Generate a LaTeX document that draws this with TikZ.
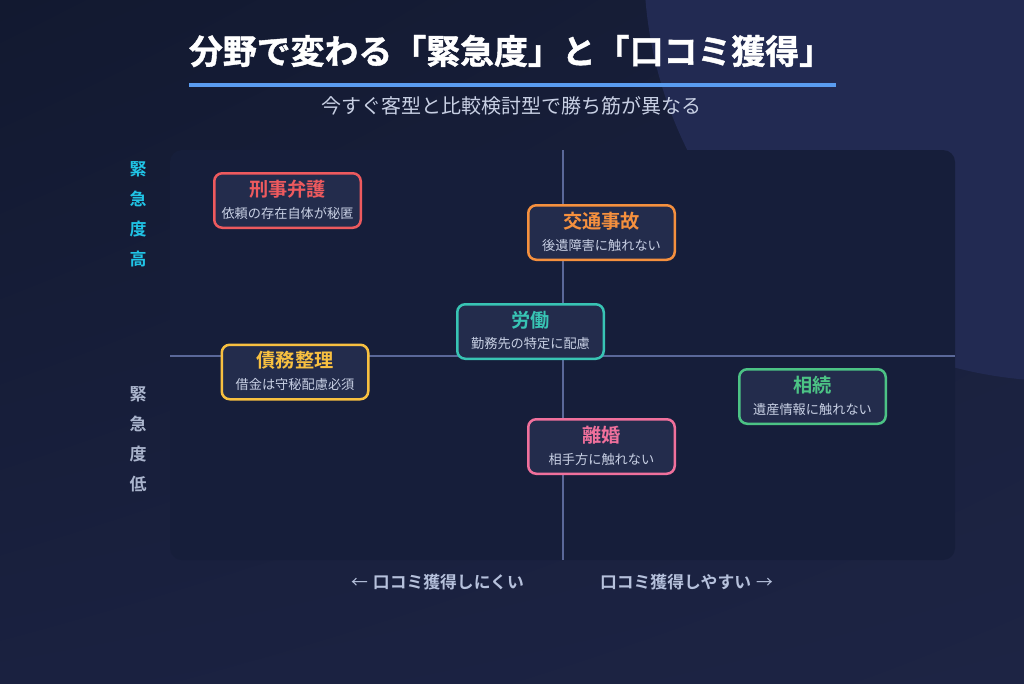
\documentclass[tikz,border=0pt]{standalone}
\usepackage{fontspec}
\usetikzlibrary{shadings}
\setmainfont{Noto Sans CJK JP}[BoldFont={Noto Sans CJK JP Bold}]
\newfontfamily\titlefont{Noto Sans CJK JP Bold}[FakeBold=1.2]
\definecolor{bgtl}{HTML}{121930}
\definecolor{bgtr}{HTML}{181F3A}
\definecolor{bgbl}{HTML}{1A2140}
\definecolor{bgbr}{HTML}{1D2444}
\definecolor{circ}{HTML}{222A52}
\definecolor{panel}{HTML}{161E3A}
\definecolor{axis}{HTML}{5A6899}
\definecolor{boxfill}{HTML}{232C4C}
\definecolor{subtxt}{HTML}{C8D0E4}
\definecolor{ulblue}{HTML}{5A9CF0}
\definecolor{cred}{HTML}{EE5A5E}
\definecolor{corange}{HTML}{F5903E}
\definecolor{cteal}{HTML}{38C4B4}
\definecolor{cyellow}{HTML}{F8C040}
\definecolor{cgreen}{HTML}{4CC385}
\definecolor{cpink}{HTML}{F0709C}
\definecolor{ccyan}{HTML}{20C4E6}
\definecolor{cgray}{HTML}{ABB5CD}
\definecolor{cbottom}{HTML}{B6C1DC}
\newcommand\qcard[6]{%
  \node[qbox, draw=#4] (#1) at (#2,#3) {};
  \node[qtitle, text=#4] (#1-t) at ([yshift=11.5pt]#1.center) {#5};
  \node[qsub] (#1-s) at ([yshift=-12.5pt]#1.center) {#6};
}
\begin{document}
\begin{tikzpicture}[x=1pt,y=-1pt,
  qbox/.style={line width=2.5pt, rounded corners=8pt, fill=boxfill, minimum width=146.5pt, minimum height=54.5pt, inner sep=0pt},
  qtitle/.style={font=\fontsize{19.2}{22}\selectfont\bfseries, inner sep=0pt},
  qsub/.style={font=\fontsize{13.2}{15}\selectfont, text=subtxt, inner sep=0pt},
  vlab/.style={font=\fontsize{17}{20}\selectfont\bfseries, inner sep=0pt},
  blab/.style={font=\fontsize{16.8}{20}\selectfont\bfseries, text=cbottom, inner sep=0pt},
  axisline/.style={draw=axis, line width=2pt}]
\useasboundingbox (0,0) rectangle (1024,683);
\shade[upper left=bgtl, upper right=bgtr, lower left=bgbl, lower right=bgbr] (0,0) rectangle (1024,683);
\begin{scope}
  \clip (0,0) rectangle (1024,683);
  \fill[circ] (1060,-35) circle[radius=416pt];
\end{scope}
% title
\node[font=\fontsize{33.9}{38}\selectfont\titlefont, text=white, inner sep=0pt] (title) at (511,51) {分野で変わる「緊急度」と「口コミ獲得」};
\coordinate (ulA) at (189,84.5);
\coordinate (ulB) at (836,84.5);
\draw[ulblue, line width=4pt] (ulA) -- (ulB);
\node[font=\fontsize{20}{24}\selectfont, text=subtxt, inner sep=0pt] (subtitle) at (511,106) {今すぐ客型と比較検討型で勝ち筋が異なる};
% panel
\fill[panel, rounded corners=12pt] (170,150) rectangle (955,560);
\coordinate (vtop) at (563,150);
\coordinate (vbot) at (563,560);
\coordinate (hl) at (170,355.5);
\coordinate (hr) at (955,355.5);
\draw[axisline] (vtop) -- (vbot);
\draw[axisline] (hl) -- (hr);
% vertical axis labels
\node[vlab, text=ccyan] (h1) at (138,169) {緊};
\node[vlab, text=ccyan] (h2) at (138,199) {急};
\node[vlab, text=ccyan] (h3) at (138,229) {度};
\node[vlab, text=ccyan] (h4) at (138,259) {高};
\node[vlab, text=cgray] (l1) at (138,394) {緊};
\node[vlab, text=cgray] (l2) at (138,424) {急};
\node[vlab, text=cgray] (l3) at (138,454) {度};
\node[vlab, text=cgray] (l4) at (138,484) {低};
% bottom labels
\node[blab] (bl) at (437.5,582) {{\mdseries ←}\hspace{5pt}口コミ獲得しにくい};
\node[blab] (br) at (686.5,582) {口コミ獲得しやすい\hspace{5pt}{\mdseries →}};
% cards
\qcard{keiji}{287.5}{200.5}{cred}{刑事弁護}{依頼の存在自体が秘匿}
\qcard{kotsu}{601.5}{232.5}{corange}{交通事故}{後遺障害に触れない}
\qcard{rodo}{530.5}{331.5}{cteal}{労働}{勤務先の特定に配慮}
\qcard{saimu}{295}{372}{cyellow}{債務整理}{借金は守秘配慮必須}
\qcard{sozoku}{812.5}{396.5}{cgreen}{相続}{遺産情報に触れない}
\qcard{rikon}{601.5}{446.5}{cpink}{離婚}{相手方に触れない}
\end{tikzpicture}
\end{document}
